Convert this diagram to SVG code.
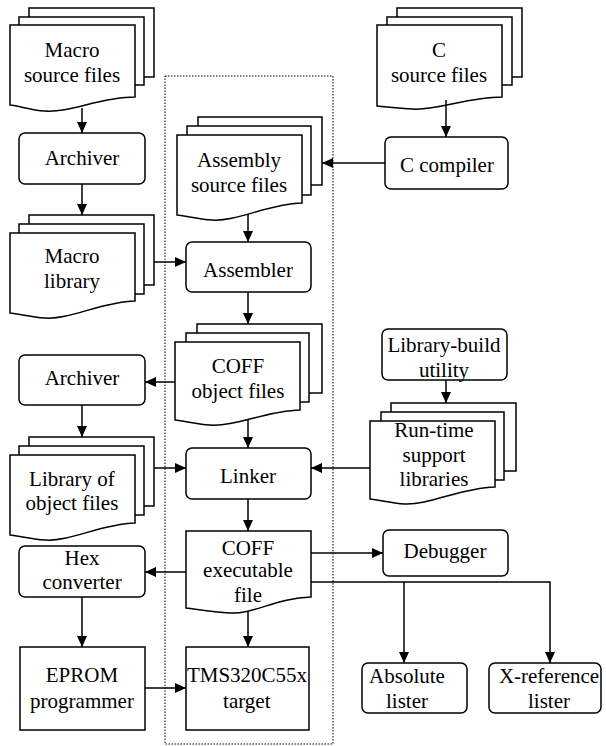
<svg xmlns="http://www.w3.org/2000/svg" width="606" height="746" viewBox="0 0 606 746">
<defs>
<marker id="ah" markerUnits="userSpaceOnUse" markerWidth="12" markerHeight="10" refX="11" refY="5" orient="auto">
<path d="M0,0 L11,5 L0,10 Z" fill="#000"/>
</marker>
</defs>
<rect x="165" y="76" width="168" height="668" fill="none" stroke="#000" stroke-width="1" stroke-dasharray="1.5,1.5"/>
<g id="macro-src">
<rect fill="#fff" stroke="#000" stroke-width="1.5" x="29" y="8" width="125" height="69"/>
<rect fill="#fff" stroke="#000" stroke-width="1.5" x="19" y="17" width="125" height="68"/>
<path fill="#fff" stroke="#000" stroke-width="1.5" d="M10,25 H135 V97 C100,97 70,113 45,111 C30,110 20,106 10,105 Z"/>
<text font-family="Liberation Serif" font-size="21" x="44.6" y="57">Macro</text>
<text font-family="Liberation Serif" font-size="21" x="23.9" y="82">source files</text>
</g>
<g id="archiver1">
<rect fill="#fff" stroke="#000" stroke-width="1.5" x="19" y="133" width="126" height="51" rx="6"/>
<text font-family="Liberation Serif" font-size="21" x="44.7" y="165">Archiver</text>
</g>
<g id="macro-lib">
<rect fill="#fff" stroke="#000" stroke-width="1.5" x="29" y="215" width="125" height="70"/>
<rect fill="#fff" stroke="#000" stroke-width="1.5" x="19" y="224" width="125" height="70"/>
<path fill="#fff" stroke="#000" stroke-width="1.5" d="M10,233 H135 V301 C100,302 70,320 45,318 C30,317 20,314 10,313 Z"/>
<text font-family="Liberation Serif" font-size="21" x="44.6" y="263">Macro</text>
<text font-family="Liberation Serif" font-size="21" x="44" y="288">library</text>
</g>
<g id="archiver2">
<rect fill="#fff" stroke="#000" stroke-width="1.5" x="19" y="355" width="126" height="50" rx="6"/>
<text font-family="Liberation Serif" font-size="21" x="44.7" y="385">Archiver</text>
</g>
<g id="lib-obj">
<rect fill="#fff" stroke="#000" stroke-width="1.5" x="29" y="437" width="125" height="69"/>
<rect fill="#fff" stroke="#000" stroke-width="1.5" x="19" y="446" width="125" height="69"/>
<path fill="#fff" stroke="#000" stroke-width="1.5" d="M10,455 H135 V523 C100,524 70,542 45,540 C30,539 20,536 10,535 Z"/>
<text font-family="Liberation Serif" font-size="21" x="29.1" y="486">Library of</text>
<text font-family="Liberation Serif" font-size="21" x="25.6" y="510">object files</text>
</g>
<g id="hex">
<rect fill="#fff" stroke="#000" stroke-width="1.5" x="19" y="546" width="126" height="51" rx="6"/>
<text font-family="Liberation Serif" font-size="21" x="64.5" y="565">Hex</text>
<text font-family="Liberation Serif" font-size="21" x="42.4" y="589">converter</text>
</g>
<g id="eprom">
<rect fill="#fff" stroke="#000" stroke-width="1.5" x="20" y="647" width="125" height="83"/>
<text font-family="Liberation Serif" font-size="21" x="45.8" y="682">EPROM</text>
<text font-family="Liberation Serif" font-size="21" x="30.1" y="708">programmer</text>
</g>
<g id="asm-src">
<rect fill="#fff" stroke="#000" stroke-width="1.5" x="198" y="117" width="124" height="68"/>
<rect fill="#fff" stroke="#000" stroke-width="1.5" x="187" y="126" width="124" height="69"/>
<path fill="#fff" stroke="#000" stroke-width="1.5" d="M177,135 H302 V203 C267,204 237,222 212,220 C197,219 187,216 177,215 Z"/>
<text font-family="Liberation Serif" font-size="21" x="197" y="167">Assembly</text>
<text font-family="Liberation Serif" font-size="21" x="190.9" y="192">source files</text>
</g>
<g id="assembler">
<rect fill="#fff" stroke="#000" stroke-width="1.5" x="186" y="242" width="125" height="50" rx="6"/>
<text font-family="Liberation Serif" font-size="21" x="203.1" y="277">Assembler</text>
</g>
<g id="coff-obj">
<rect fill="#fff" stroke="#000" stroke-width="1.5" x="197" y="324" width="125" height="69"/>
<rect fill="#fff" stroke="#000" stroke-width="1.5" x="186" y="333" width="123" height="69"/>
<path fill="#fff" stroke="#000" stroke-width="1.5" d="M175,342 H300 V410 C265,411 235,427 210,425 C195,424 185,421 175,420 Z"/>
<text font-family="Liberation Serif" font-size="21" x="211.7" y="373">COFF</text>
<text font-family="Liberation Serif" font-size="21" x="191.6" y="398">object files</text>
</g>
<g id="linker">
<rect fill="#fff" stroke="#000" stroke-width="1.5" x="186" y="448" width="125" height="51" rx="6"/>
<text font-family="Liberation Serif" font-size="21" x="220" y="483">Linker</text>
</g>
<g id="coff-exe">
<path fill="#fff" stroke="#000" stroke-width="1.5" d="M186,531 H311 V597 C276,598 255,614 230,613 C210,612 196,609 186,608 Z"/>
<text font-family="Liberation Serif" font-size="21" x="221.7" y="555">COFF</text>
<text font-family="Liberation Serif" font-size="21" x="203.1" y="577">executable</text>
<text font-family="Liberation Serif" font-size="21" x="234" y="602">file</text>
</g>
<g id="tms">
<rect fill="#fff" stroke="#000" stroke-width="1.5" x="186" y="647" width="123" height="83"/>
<text font-family="Liberation Serif" font-size="21" x="186.9" y="682">TMS320C55x</text>
<text font-family="Liberation Serif" font-size="21" x="223.1" y="708">target</text>
</g>
<g id="c-src">
<rect fill="#fff" stroke="#000" stroke-width="1.5" x="397" y="8" width="125" height="69"/>
<rect fill="#fff" stroke="#000" stroke-width="1.5" x="387" y="17" width="125" height="68"/>
<path fill="#fff" stroke="#000" stroke-width="1.5" d="M377,25 H502 V97 C467,97 437,111 412,109 C397,108 387,107 377,106 Z"/>
<text font-family="Liberation Serif" font-size="21" x="432" y="57">C</text>
<text font-family="Liberation Serif" font-size="21" x="390.9" y="82">source files</text>
</g>
<g id="c-compiler">
<rect fill="#fff" stroke="#000" stroke-width="1.5" x="385" y="137" width="123" height="52" rx="6"/>
<text font-family="Liberation Serif" font-size="21" x="400" y="172">C compiler</text>
</g>
<g id="lib-build">
<rect fill="#fff" stroke="#000" stroke-width="1.5" x="382" y="329" width="125" height="51" rx="6"/>
<text font-family="Liberation Serif" font-size="21" x="387.4" y="352">Library-build</text>
<text font-family="Liberation Serif" font-size="21" x="418.9" y="377">utility</text>
</g>
<g id="runtime">
<rect fill="#fff" stroke="#000" stroke-width="1.5" x="391" y="403" width="125" height="68"/>
<rect fill="#fff" stroke="#000" stroke-width="1.5" x="381" y="412" width="123" height="68"/>
<path fill="#fff" stroke="#000" stroke-width="1.5" d="M370,421 H495 V487 C460,488 430,505 405,504 C390,503 380,500 370,499 Z"/>
<text font-family="Liberation Serif" font-size="21" x="394.3" y="437">Run-time</text>
<text font-family="Liberation Serif" font-size="21" x="402.5" y="462">support</text>
<text font-family="Liberation Serif" font-size="21" x="399.6" y="486">libraries</text>
</g>
<g id="debugger">
<rect fill="#fff" stroke="#000" stroke-width="1.5" x="383" y="530" width="125" height="46" rx="6"/>
<text font-family="Liberation Serif" font-size="21" x="403.6" y="558">Debugger</text>
</g>
<g id="abs-lister">
<rect fill="#fff" stroke="#000" stroke-width="1.5" x="362" y="663" width="105" height="50" rx="6"/>
<text font-family="Liberation Serif" font-size="21" x="369.1" y="683">Absolute</text>
<text font-family="Liberation Serif" font-size="21" x="386" y="708">lister</text>
</g>
<g id="xref-lister">
<rect fill="#fff" stroke="#000" stroke-width="1.5" x="489" y="663" width="112" height="50" rx="6"/>
<text font-family="Liberation Serif" font-size="21" x="498.9" y="683">X-reference</text>
<text font-family="Liberation Serif" font-size="21" x="528" y="708">lister</text>
</g>
<g id="connectors" fill="none" stroke="#000" stroke-width="1.5" marker-end="url(#ah)">
<path d="M82,108 V133"/>
<path d="M82,184 V215"/>
<path d="M154,262 H186"/>
<path d="M446,100 V137"/>
<path d="M385,163 H322"/>
<path d="M248,214 V242"/>
<path d="M248,292 V324"/>
<path d="M175,382 H145"/>
<path d="M82,405 V437"/>
<path d="M154,468 H186"/>
<path d="M446,380 V403"/>
<path d="M370,468 H311"/>
<path d="M248,420 V448"/>
<path d="M248,499 V531"/>
<path d="M311,553 H383"/>
<path d="M186,572 H145"/>
<path d="M311,582 H550 V663"/>
<path d="M404,582 V663"/>
<path d="M248,611 V647"/>
<path d="M82,597 V647"/>
<path d="M145,688 H186"/>
</g>
</svg>
